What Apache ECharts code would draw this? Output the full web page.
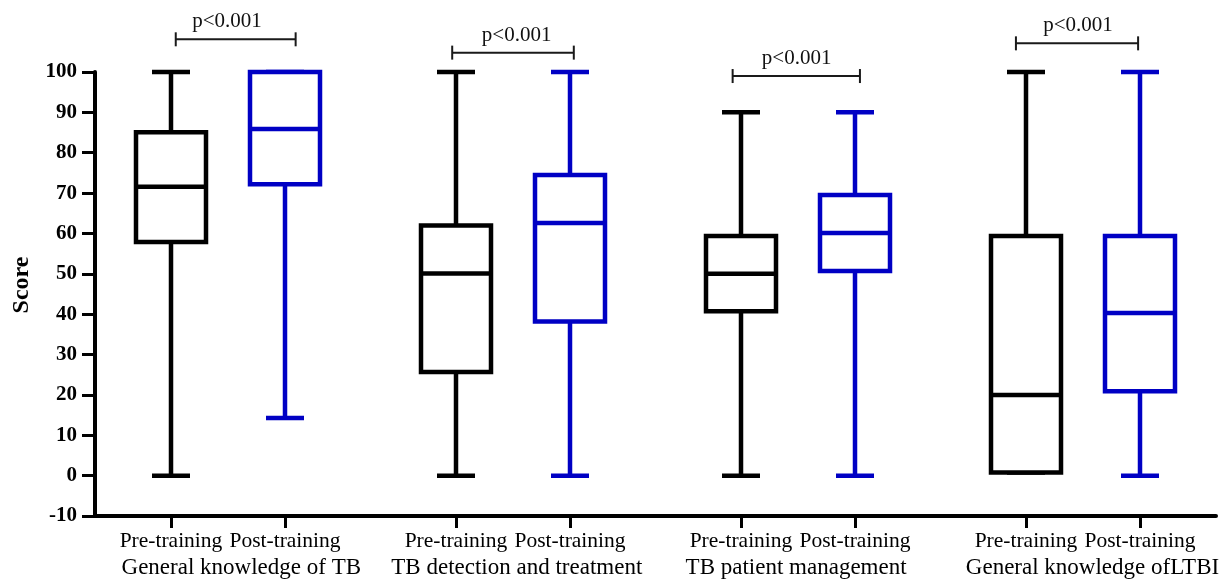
<!DOCTYPE html>
<html>
<head>
<meta charset="utf-8">
<script src="https://cdn.jsdelivr.net/npm/echarts@6/dist/echarts.min.js"></script>
<style>html,body{margin:0;padding:0;background:#fff}#chart{width:1231px;height:585px}</style>
</head>
<body>
<div id="chart"></div>
<script>
// ---- data ----
const groups = ['General knowledge of TB', 'TB detection and treatment', 'TB patient management', 'General knowledge ofLTBI'];
const boxLabels = ['Pre-training', 'Post-training'];
// [min, Q1, median, Q3, max]
const preTraining = [
  [0, 57.9, 71.6, 85.1, 100],
  [0, 25.7, 50.1, 62.0, 100],
  [0, 40.7, 50.0, 59.4, 90],
  [0.8, 0.8, 20.0, 59.4, 100]
];
const postTraining = [
  [14.3, 72.2, 85.9, 100, 100],
  [0, 38.2, 62.6, 74.5, 100],
  [0, 50.7, 60.1, 69.5, 90],
  [0, 20.9, 40.3, 59.4, 100]
];
const pLabels = ['p<0.001', 'p<0.001', 'p<0.001', 'p<0.001'];
const yTicks = { min: -10, max: 100, interval: 10 };

// ---- layout (axis units along x) ----
const SLOT_PRE = [4, 19, 34, 49];
const SLOT_POST = [10, 25, 40, 55];
const GROUP_LABEL_X = [7.7, 22.2, 36.9, 52.5];
const BRACKET_X = [[4.25, 10.56], [18.8, 25.2], [33.56, 40.26], [48.47, 54.9]];
const BRACKET_Y = [108.1, 104.8, 99.0, 107.1];
const BRACKET_TEXT_X = [6.95, 22.19, 36.93, 51.74];

const FONT = "'Liberation Serif', 'Times New Roman', serif";
const BLACK = '#000000';
const BLUE = '#0000c4';
const BOX_W = 70, CAP_W = 38, LW = 4.5;

const tickVals = [];
const tickText = {};
SLOT_PRE.forEach((v) => { tickVals.push(v); tickText[v] = boxLabels[0]; });
SLOT_POST.forEach((v) => { tickVals.push(v); tickText[v] = boxLabels[1]; });
tickVals.sort((a, b) => a - b);

function boxData(slots, arr) {
  return arr.map((d, i) => [slots[i]].concat(d));
}

function makeRender(color) {
  return function (params, api) {
    const x = api.value(0);
    const p = [1, 2, 3, 4, 5].map((i) => api.coord([x, api.value(i)]));
    const cx = p[0][0];
    const yMin = p[0][1], yQ1 = p[1][1], yMed = p[2][1], yQ3 = p[3][1], yMax = p[4][1];
    const st = { stroke: color, lineWidth: LW, fill: null };
    const hw = BOX_W / 2, cw = CAP_W / 2;
    return {
      type: 'group',
      children: [
        { type: 'line', shape: { x1: cx, y1: yQ3, x2: cx, y2: yMax }, style: st },
        { type: 'line', shape: { x1: cx, y1: yQ1, x2: cx, y2: yMin }, style: st },
        { type: 'line', shape: { x1: cx - cw, y1: yMax, x2: cx + cw, y2: yMax }, style: st },
        { type: 'line', shape: { x1: cx - cw, y1: yMin, x2: cx + cw, y2: yMin }, style: st },
        { type: 'rect', shape: { x: cx - hw, y: yQ3, width: BOX_W, height: yQ1 - yQ3 }, style: { stroke: color, lineWidth: LW, fill: '#ffffff' } },
        { type: 'line', shape: { x1: cx - hw, y1: yMed, x2: cx + hw, y2: yMed }, style: st }
      ]
    };
  };
}

const bracketData = BRACKET_X.map((b, i) => [b[0], b[1], BRACKET_Y[i], BRACKET_TEXT_X[i], i]);

function renderBracket(params, api) {
  const a = api.coord([api.value(0), api.value(2)]);
  const b = api.coord([api.value(1), api.value(2)]);
  const t = api.coord([api.value(3), api.value(2)]);
  const idx = api.value(4);
  const st = { stroke: '#1a1a1a', lineWidth: 2 };
  const h = 7;
  return {
    type: 'group',
    children: [
      { type: 'line', shape: { x1: a[0], y1: a[1], x2: b[0], y2: b[1] }, style: st },
      { type: 'line', shape: { x1: a[0], y1: a[1] - h, x2: a[0], y2: a[1] + h }, style: st },
      { type: 'line', shape: { x1: b[0], y1: b[1] - h, x2: b[0], y2: b[1] + h }, style: st },
      { type: 'text', style: { text: pLabels[idx], x: t[0], y: t[1] - 7, align: 'center', verticalAlign: 'bottom', font: "21px " + FONT, fill: '#111111' } }
    ]
  };
}

const chart = echarts.init(document.getElementById('chart'), null, { renderer: 'canvas' });
chart.setOption({
  animation: false,
  backgroundColor: '#ffffff',
  grid: { left: 95, right: 15, top: 72, bottom: 69, containLabel: false },
  xAxis: [
    {
      type: 'value', min: 0, max: 59, position: 'bottom',
      splitLine: { show: false },
      axisLine: { show: true, onZero: false, lineStyle: { color: BLACK, width: 4 } },
      axisTick: { show: true, customValues: tickVals, length: 12, lineStyle: { color: BLACK, width: 3 } },
      axisLabel: {
        show: true, customValues: tickVals, margin: 14, color: BLACK,
        fontFamily: FONT, fontSize: 21.5,
        formatter: (v) => { for (const k in tickText) { if (Math.abs(+k - v) < 0.01) return tickText[k]; } return ''; }
      }
    },
    {
      type: 'value', min: 0, max: 59, position: 'bottom', gridIndex: 0,
      splitLine: { show: false },
      axisLine: { show: false, onZero: false },
      axisTick: { show: false, customValues: GROUP_LABEL_X },
      axisLabel: {
        show: true, customValues: GROUP_LABEL_X, margin: 40, color: BLACK,
        fontFamily: FONT, fontSize: 23,
        formatter: (v) => { const i = GROUP_LABEL_X.findIndex((g) => Math.abs(g - v) < 0.01); return i >= 0 ? groups[i] : ''; }
      }
    }
  ],
  yAxis: {
    type: 'value', min: yTicks.min, max: yTicks.max, interval: yTicks.interval,
    name: 'Score', nameLocation: 'middle', nameGap: 61,
    nameTextStyle: { fontFamily: FONT, fontSize: 24, fontWeight: 'bold', color: BLACK, padding: [0, 0, 0, 18] },
    splitLine: { show: false },
    axisLine: { show: true, onZero: false, lineStyle: { color: BLACK, width: 4 } },
    axisTick: { show: true, length: 13, lineStyle: { color: BLACK, width: 3 } },
    axisLabel: { margin: 18, color: BLACK, fontFamily: FONT, fontSize: 21, fontWeight: 'bold' }
  },
  series: [
    { type: 'custom', name: boxLabels[0], xAxisIndex: 0, renderItem: makeRender(BLACK), data: boxData(SLOT_PRE, preTraining), encode: { x: 0, y: [1, 2, 3, 4, 5] }, clip: false, z: 3 },
    { type: 'custom', name: boxLabels[1], xAxisIndex: 0, renderItem: makeRender(BLUE), data: boxData(SLOT_POST, postTraining), encode: { x: 0, y: [1, 2, 3, 4, 5] }, clip: false, z: 3 },
    { type: 'custom', name: 'brackets', xAxisIndex: 0, renderItem: renderBracket, data: bracketData, encode: { x: [0, 1], y: 2 }, clip: false, silent: true, z: 4 }
  ]
});
</script>
</body>
</html>
